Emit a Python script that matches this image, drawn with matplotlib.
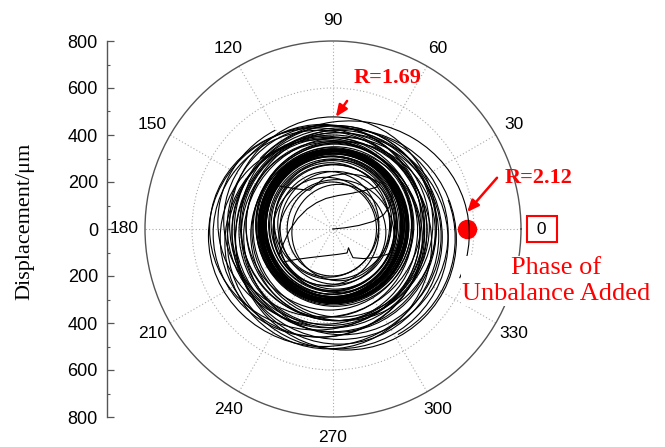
import numpy as np
import matplotlib
matplotlib.use("Agg")
import matplotlib.pyplot as plt
from matplotlib.patches import Ellipse, Arc

plt.rcParams['font.family'] = ['Liberation Sans', 'DejaVu Sans']

# ---------------- data (µm) ----------------
theta_labels = ['0', '30', '60', '90', '120', '150', '180', '210', '240', '270', '300', '330']
disp_ticks = [-800, -600, -400, -200, 0, 200, 400, 600, 800]
disp_labels = ['800', '600', '400', '200', '0', '200', '400', '600', '800']

# dense ring of orbit loops
ring_cx = [4, -6, 10, 0, -9, 7, 2, -3, 12, -11, 5, -1, 8, -7, 3, 11, -4, 6, -10, 1, 9, -5, 0, 7, -8, 4, -2, 10, -6, 3, 8, -3, 5, -9, 2, 6, -4, 9]
ring_cy = [14, 9, 20, 12, 17, 6, 22, 15, 10, 19, 13, 24, 8, 16, 21, 11, 18, 7, 14, 23, 12, 17, 9, 20, 15, 5, 19, 13, 22, 10, 16, 11, 18, 8, 21, 14, 12, 17]
ring_rx = [292, 305, 261, 318, 297, 310, 286, 322, 301, 252, 314, 295, 307, 289, 332, 299, 270, 316, 303, 291, 311, 279, 320, 298, 306, 258, 313, 294, 302, 288, 336, 296, 309, 282, 300, 317, 266, 325]
ring_ry = [304, 313, 276, 328, 315, 316, 300, 331, 321, 263, 321, 311, 320, 294, 344, 316, 280, 324, 317, 310, 320, 294, 326, 310, 324, 268, 320, 307, 318, 299, 345, 310, 317, 299, 312, 327, 279, 333]

# looser loops outside the ring
outer_cx = [0, -40, 20, -60, 30, -20, 10, -30, 40, -50, 0, 20, -10, 30, -25, 10, -15, 45, -35, 15, -70, 55, -45, 25]
outer_cy = [20, -30, -50, -20, -20, -60, 0, 10, -30, -40, -10, 10, -20, 0, 5, -25, 15, -10, -5, 25, 0, -45, 35, -35]
outer_rx = [440, 490, 470, 450, 460, 440, 430, 420, 420, 430, 400, 390, 380, 370, 365, 360, 355, 390, 395, 410, 455, 470, 420, 440]
outer_ry = [457, 470, 460, 440, 450, 450, 440, 430, 420, 420, 410, 400, 390, 375, 380, 365, 360, 380, 400, 415, 430, 470, 410, 455]

# loops inside the ring
inner_cx = [10, -20, 25, 0, -30, 15, -5]
inner_cy = [5, 20, -15, 30, -10, -30, 0]
inner_rx = [235, 215, 200, 250, 225, 245, 190]
inner_ry = [240, 225, 205, 245, 230, 240, 200]

# partial loops (arcs): centre, radii, start/end angle in degrees
arc_cx = [70, 40, -20]
arc_cy = [-20, -40, 30]
arc_rx = [510, 480, 470]
arc_ry = [480, 470, 445]
arc_t1 = [-22, -60, 120]
arc_t2 = [140, 20, 260]

# irregular wandering traces near the centre (x, y)
trace1_x = [-240, -200, -150, -100, -70, -40, 0, 60, 120, 170, 200, 185, 140, 80, 20, -30, -70, -110, -150, -185, -210, -230]
trace1_y = [185, 178, 170, 165, 190, 215, 228, 236, 228, 212, 195, 178, 165, 152, 142, 130, 112, 85, 45, -5, -60, -110]
trace2_x = [0, 50, 110, 170, 215, 240, 252, 250]
trace2_y = [0, 5, 15, 32, 60, 95, 135, 175]
trace3_x = [-210, -160, -100, -40, 20, 60, 66, 72, 85, 130, 190, 240]
trace3_y = [-140, -130, -122, -115, -108, -102, -80, -95, -122, -126, -120, -105]

dot_theta_deg = [0]
dot_r = [570]

# ---------------- figure ----------------
fig = plt.figure(figsize=(6.65, 4.47), dpi=100)
W, H = 665.0, 447.0
cx_px, cy_px, R_px = 333.0, 229.0, 188.0
box = [(cx_px - R_px) / W, (H - cy_px - R_px) / H, 2 * R_px / W, 2 * R_px / H]

ax = fig.add_axes(box, projection='polar')
ax.set_ylim(0, 800)
ax.set_thetagrids(np.arange(0, 360, 30), labels=[' 0 '] + theta_labels[1:])
ax.set_rgrids([200, 400, 600], labels=['', '', ''])
ax.set_xticks(np.deg2rad(np.arange(15, 360, 30)), minor=True)
ax.grid(True, which='major', linestyle=(0, (1, 2)), color='#aaaaaa', linewidth=0.8)
ax.spines['polar'].set_color('#555555')
ax.spines['polar'].set_linewidth(1.0)
ax.tick_params(axis='x', which='major', direction='in', length=6, width=0.9,
               color='#555555', pad=8, labelsize=12.5)
ax.tick_params(axis='x', which='minor', direction='in', length=3.5, width=0.8, color='#555555')
ax.tick_params(axis='y', length=0)
ax.get_xticklabels()[0].set_bbox(dict(boxstyle='square,pad=0.3', facecolor='white',
                                       edgecolor='red', linewidth=1.5))

# overlay cartesian axes for the orbit in µm
ox = fig.add_axes(box)
ox.set_xlim(-800, 800)
ox.set_ylim(-800, 800)
ox.axis('off')
ox.patch.set_alpha(0)

lw = 0.8
for x, y, a, b in zip(ring_cx, ring_cy, ring_rx, ring_ry):
    ox.add_patch(Ellipse((x, y), 2 * a, 2 * b, fill=False, edgecolor='black', linewidth=lw))
for x, y, a, b in zip(outer_cx, outer_cy, outer_rx, outer_ry):
    ox.add_patch(Ellipse((x, y), 2 * a, 2 * b, fill=False, edgecolor='black', linewidth=lw))
for x, y, a, b in zip(inner_cx, inner_cy, inner_rx, inner_ry):
    ox.add_patch(Ellipse((x, y), 2 * a, 2 * b, fill=False, edgecolor='black', linewidth=lw))
for x, y, a, b, t1, t2 in zip(arc_cx, arc_cy, arc_rx, arc_ry, arc_t1, arc_t2):
    ox.add_patch(Arc((x, y), 2 * a, 2 * b, theta1=t1, theta2=t2, edgecolor='black', linewidth=lw))
ox.plot(trace1_x, trace1_y, color='black', lw=lw)
ox.plot(trace2_x, trace2_y, color='black', lw=lw)
ox.plot(trace3_x, trace3_y, color='black', lw=lw)

# red dot and arrows
ax.plot(np.deg2rad(dot_theta_deg), dot_r, 'o', color='red', markersize=13, zorder=5, clip_on=False)

arrow_kw = dict(arrowstyle='-|>,head_length=0.7,head_width=0.3', color='red', lw=1.8, shrinkA=0, shrinkB=0)
ox.annotate('', xy=(12, 477), xytext=(60, 545), arrowprops=arrow_kw, annotation_clip=False)
ox.annotate('', xy=(571, 72), xytext=(698, 218), arrowprops=arrow_kw, annotation_clip=False)

fig.text(388 / W, 1 - 78 / H, 'R=1.69', color='red', fontsize=16, fontweight='bold',
         family='Liberation Serif', ha='center', va='center')
fig.text(539 / W, 1 - 178 / H, 'R=2.12', color='red', fontsize=16, fontweight='bold',
         family='Liberation Serif', ha='center', va='center')
fig.text(556 / W, 1 - 281 / H, 'Phase of\nUnbalance Added', color='red', fontsize=19,
         family='Liberation Serif', ha='center', va='center', linespacing=1.2,
         bbox=dict(facecolor='white', edgecolor='none', pad=1))

# left displacement axis
al = fig.add_axes([107 / W, box[1], 0.05, box[3]])
al.set_ylim(-800, 800)
al.set_yticks(disp_ticks)
al.set_yticklabels(disp_labels)
al.set_yticks(np.arange(-700, 800, 200), minor=True)
al.patch.set_alpha(0)
for s in ['top', 'right', 'bottom']:
    al.spines[s].set_visible(False)
al.spines['left'].set_color('#555555')
al.spines['left'].set_linewidth(1.0)
al.xaxis.set_visible(False)
al.tick_params(axis='y', which='major', direction='in', length=5, width=0.9, color='#555555',
               pad=6.5, labelsize=13)
al.tick_params(axis='y', which='minor', direction='in', length=2.5, width=0.8, color='#555555')

fig.text(25 / W, 1 - 221 / H, 'Displacement/μm', rotation=90, fontsize=16,
         family='Liberation Serif', ha='center', va='center')

fig.savefig('out.png', dpi=100)
